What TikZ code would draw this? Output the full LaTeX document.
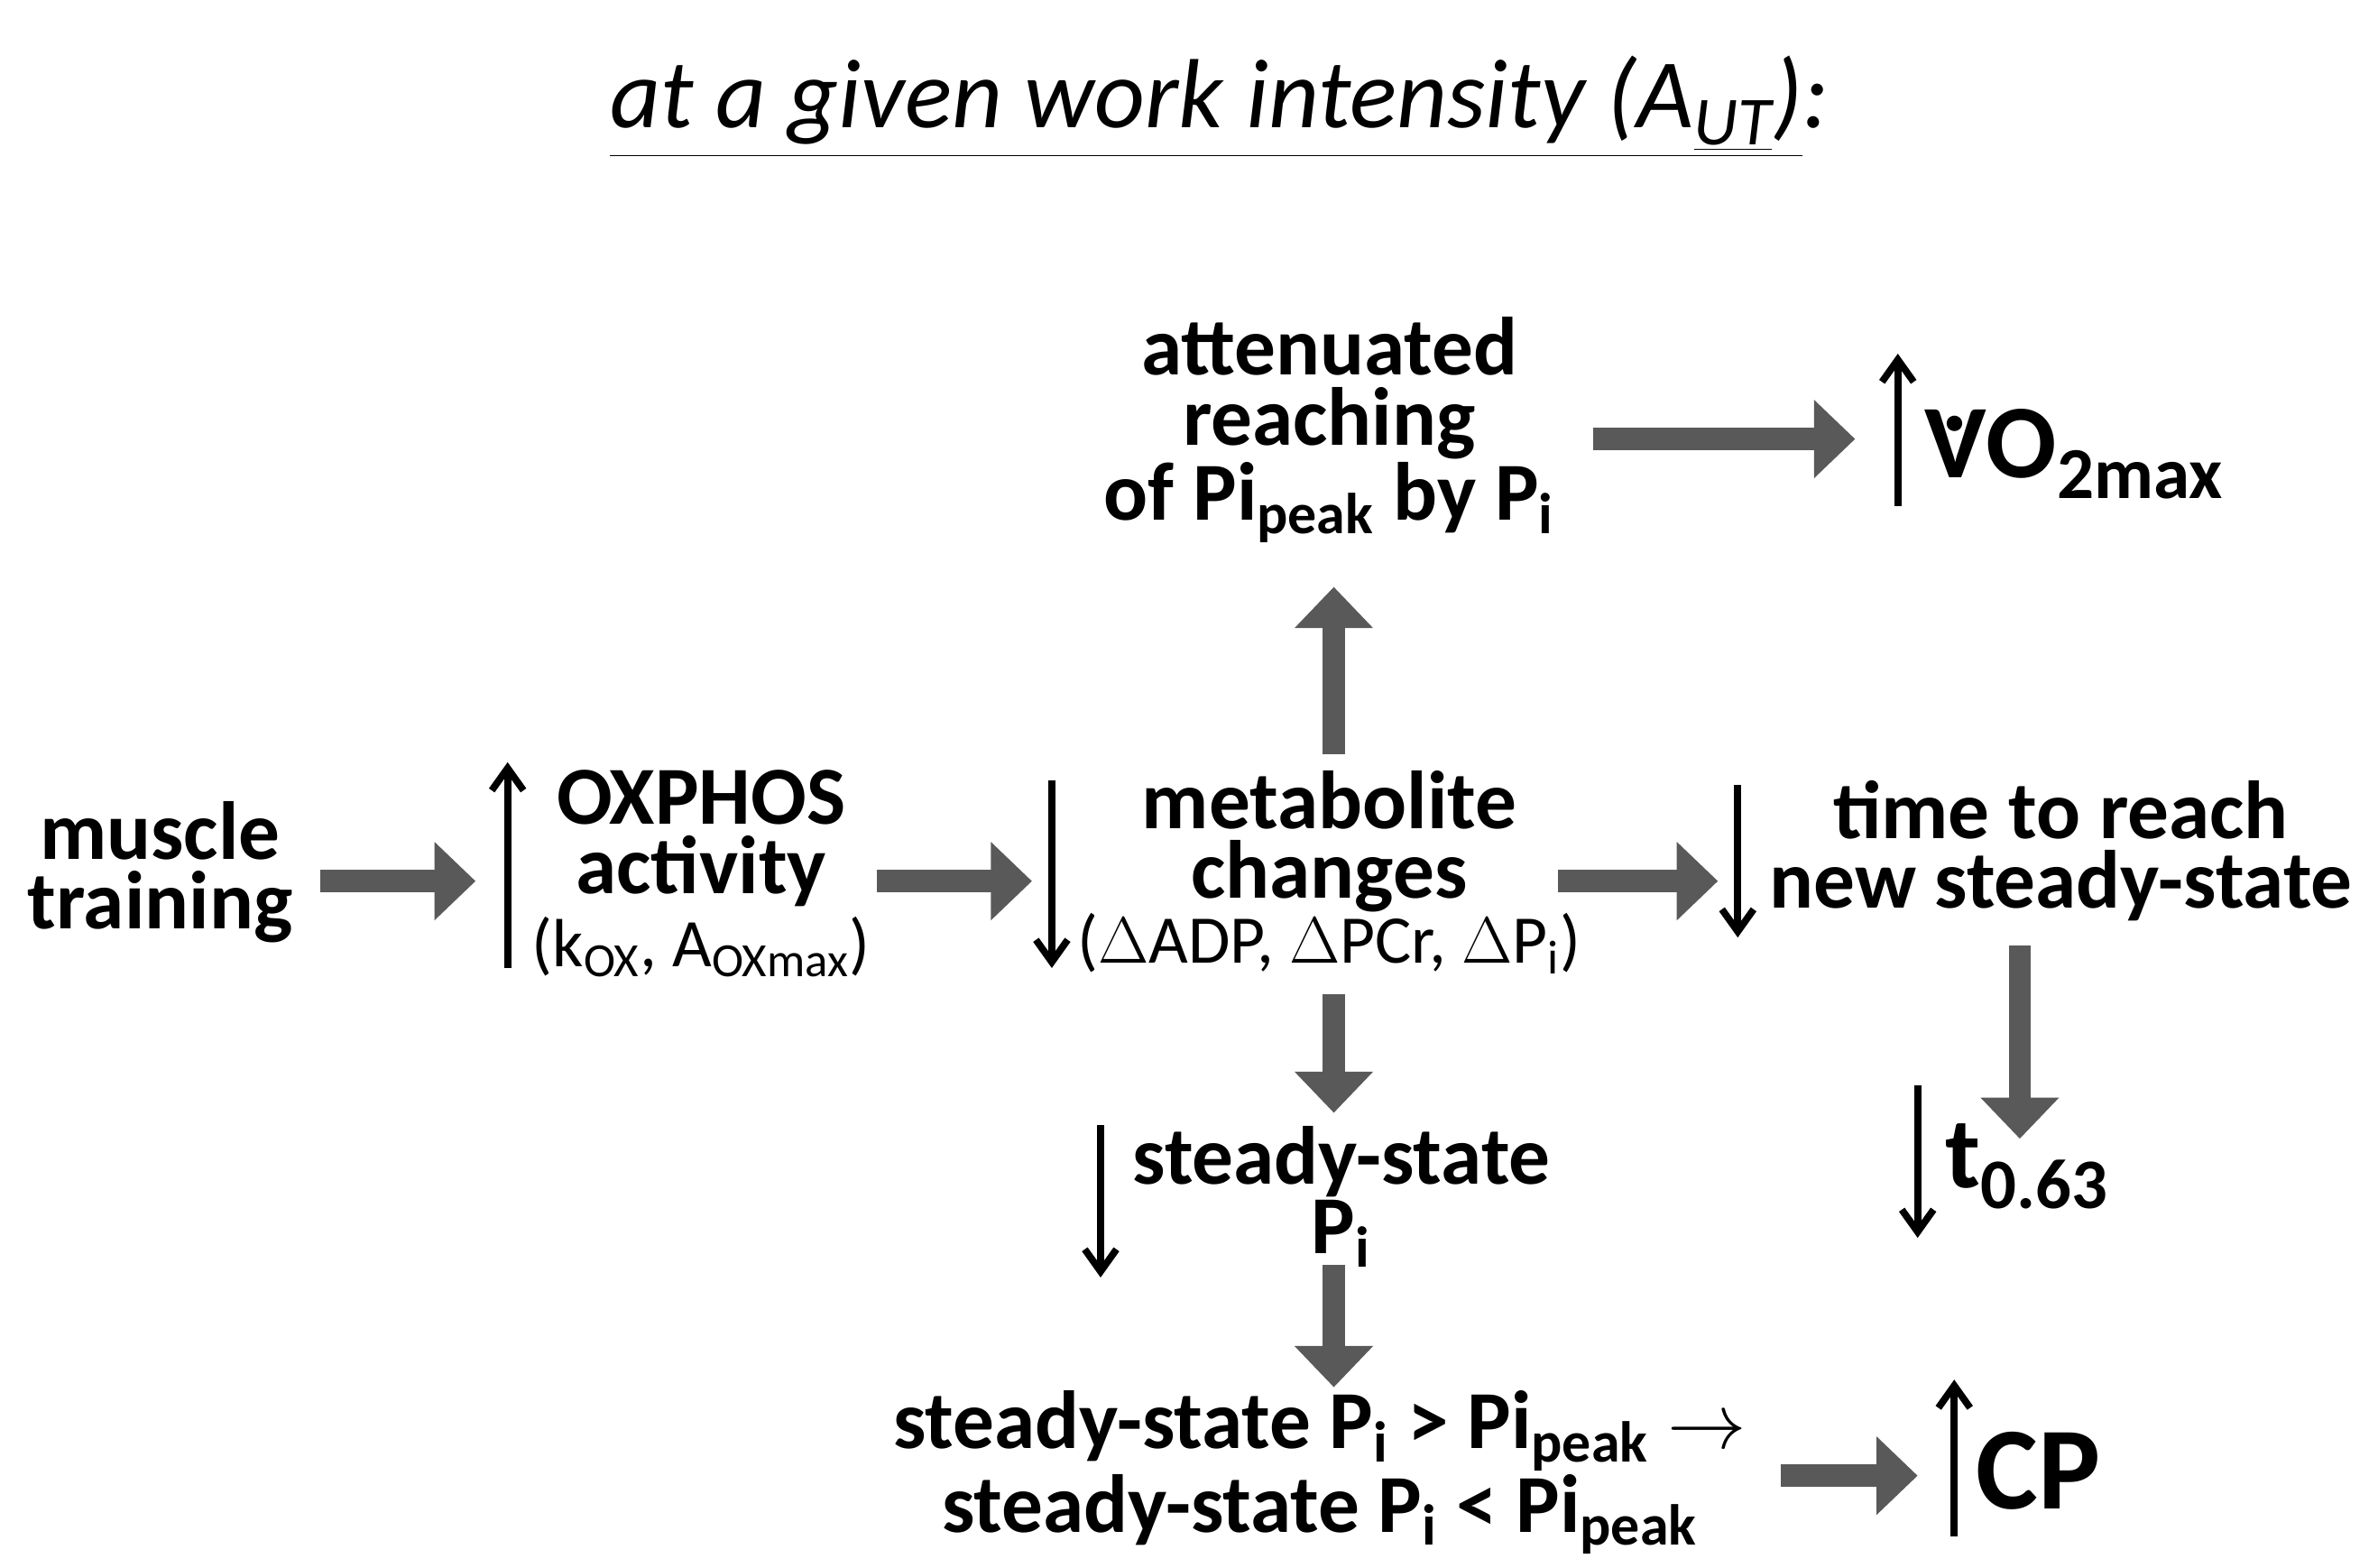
\documentclass[tikz,border=0pt]{standalone}
\usepackage{fontspec}
\setmainfont{Carlito}
\usetikzlibrary{arrows.meta}
\begin{document}
\begin{tikzpicture}[x=0.0169cm,y=-0.0169cm,
  lbl/.style={font=\fontsize{26}{22}\selectfont\bfseries,align=center,inner sep=0},
  sub/.style={font=\fontsize{21.5}{22}\selectfont,inner sep=0},
  fat/.style={draw=black!65,line width=7pt,-{Triangle[length=13pt,width=24pt]}},
  thin/.style={draw=black,line width=2.2pt,-{Straight Barb[length=7pt,width=10pt]}}]
\useasboundingbox (0,0) rectangle (1560,1028);
\node[inner sep=0,font=\fontsize{31}{34}\selectfont\itshape] (title) at (800,70) {\underline{at a given work intensity (A\textsubscript{\underline{UT}})}:};
\node[lbl] (mt) at (105,572) {muscle\\training};
\node[lbl] (ox) at (460,550) {OXPHOS\\activity};
\node[sub] (oxs) at (460,621) {(k\textsubscript{OX}, A\textsubscript{OXmax})};
\node[lbl] (mc) at (872,552) {metabolite\\changes};
\node[sub] (mcs) at (872,619) {($\Delta$ADP, $\Delta$PCr, $\Delta$P\textsubscript{i})};
\node[lbl] (att) at (872,282) {attenuated\\reaching\\of Pi\textsubscript{peak} by P\textsubscript{i}};
\node[lbl,anchor=west,font=\fontsize{33}{34}\selectfont\bfseries] (vo) at (1262,298) {\ooalign{V\cr\hidewidth\raisebox{0.45em}{.}\hidewidth}O\textsubscript{2max}};
\node[lbl] (time) at (1352,558) {time to reach\\new steady-state};
\node[lbl,anchor=west,font=\fontsize{32}{34}\selectfont\bfseries] (t) at (1276,765) {t\textsubscript{0.63}};
\node[lbl] (ss) at (880,785) {steady-state\\P\textsubscript{i}};
\node[lbl] (cmp) at (866,966) {steady-state P\textsubscript{i} > Pi\textsubscript{peak} $\rightarrow$\\steady-state P\textsubscript{i} < Pi\textsubscript{peak}};
\node[lbl,anchor=west,font=\fontsize{37}{37}\selectfont\bfseries] (cp) at (1296,965) {CP};
\draw[fat] (210,578) -- (312,578);
\draw[fat] (575,578) -- (677,578);
\draw[fat] (1022,578) -- (1127,578);
\draw[fat] (875,495) -- (875,385);
\draw[fat] (1045,288) -- (1217,288);
\draw[fat] (1325,620) -- (1325,747);
\draw[fat] (875,652) -- (875,730);
\draw[fat] (875,830) -- (875,910);
\draw[fat] (1168,968) -- (1258,968);
\draw[thin] (333,635) -- (333,500);
\draw[thin] (690,512) -- (690,635);
\draw[thin] (1245,332) -- (1245,232);
\draw[thin] (1140,515) -- (1140,615);
\draw[thin] (1258,712) -- (1258,812);
\draw[thin] (722,738) -- (722,838);
\draw[thin] (1282,1008) -- (1282,905);
\end{tikzpicture}
\end{document}
